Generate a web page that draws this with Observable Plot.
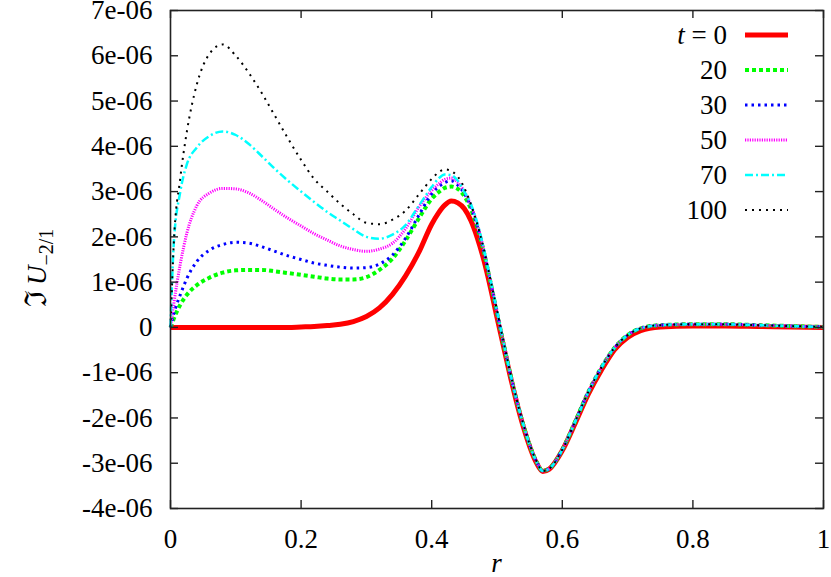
<!DOCTYPE html>
<html>
<head>
<meta charset="utf-8">
<script src="https://cdn.jsdelivr.net/npm/d3@7"></script>
<script src="https://cdn.jsdelivr.net/npm/@observablehq/plot@0.6"></script>
<style>
  html, body { margin: 0; padding: 0; background: #fff; }
  #chart { width: 831px; height: 577px; }
</style>
</head>
<body>
<div id="chart"></div>
<script>
// radial grid
const rGrid = [0, 0.005, 0.015, 0.025, 0.04, 0.06, 0.08, 0.1, 0.12, 0.14, 0.16, 0.18, 0.2, 0.22, 0.24, 0.26, 0.28, 0.3, 0.32, 0.34, 0.36, 0.38, 0.40, 0.41, 0.42, 0.43, 0.44, 0.45, 0.46, 0.47, 0.48, 0.49, 0.50, 0.51, 0.52, 0.54, 0.56, 0.57, 0.58, 0.60, 0.62, 0.64, 0.66, 0.68, 0.70, 0.72, 0.75, 0.8, 0.85, 0.9, 0.95, 1.0];

// values in units of 1e-06
const t0   = [0, 0, 0, 0, 0, 0, 0, 0, 0, 0, 0, 0, 0.01, 0.02, 0.04, 0.07, 0.13, 0.24, 0.43, 0.73, 1.14, 1.65, 2.28, 2.52, 2.70, 2.79, 2.75, 2.62, 2.36, 1.97, 1.48, 0.88, 0.22, -0.42, -1.06, -2.18, -2.98, -3.18, -3.13, -2.72, -2.11, -1.47, -0.94, -0.49, -0.22, -0.07, 0.01, 0.03, 0.03, 0.02, 0.01, 0];
const t20  = [0, 0.19, 0.5, 0.72, 0.93, 1.10, 1.21, 1.26, 1.27, 1.27, 1.24, 1.20, 1.16, 1.12, 1.08, 1.06, 1.06, 1.11, 1.27, 1.52, 1.92, 2.40, 2.84, 2.98, 3.08, 3.11, 3.06, 2.90, 2.62, 2.20, 1.66, 1.00, 0.32, -0.36, -1.01, -2.14, -2.95, -3.17, -3.12, -2.70, -2.07, -1.42, -0.88, -0.45, -0.17, -0.02, 0.05, 0.07, 0.07, 0.05, 0.03, 0.01];
const t30  = [0, 0.30, 0.72, 1.08, 1.45, 1.71, 1.83, 1.88, 1.86, 1.78, 1.68, 1.58, 1.50, 1.42, 1.37, 1.33, 1.31, 1.32, 1.40, 1.60, 1.97, 2.47, 2.95, 3.10, 3.20, 3.24, 3.14, 2.96, 2.66, 2.23, 1.68, 1.01, 0.33, -0.35, -1.01, -2.14, -2.95, -3.17, -3.12, -2.70, -2.07, -1.42, -0.88, -0.45, -0.17, -0.02, 0.05, 0.07, 0.07, 0.05, 0.03, 0.01];
const t50  = [0, 0.52, 1.40, 2.08, 2.68, 2.97, 3.07, 3.06, 2.97, 2.80, 2.60, 2.41, 2.24, 2.07, 1.93, 1.80, 1.72, 1.68, 1.73, 1.86, 2.18, 2.65, 3.02, 3.16, 3.27, 3.30, 3.20, 3.00, 2.70, 2.27, 1.70, 1.03, 0.35, -0.33, -1.00, -2.13, -2.95, -3.17, -3.12, -2.70, -2.07, -1.42, -0.88, -0.45, -0.17, -0.02, 0.05, 0.07, 0.07, 0.05, 0.03, 0.01];
const t70  = [0, 1.85, 3.00, 3.60, 3.97, 4.23, 4.33, 4.25, 4.05, 3.78, 3.50, 3.24, 3.00, 2.77, 2.55, 2.36, 2.17, 2.00, 1.96, 2.05, 2.26, 2.68, 3.10, 3.28, 3.38, 3.36, 3.24, 3.00, 2.72, 2.30, 1.72, 1.05, 0.37, -0.32, -0.99, -2.13, -2.95, -3.17, -3.12, -2.70, -2.07, -1.42, -0.88, -0.45, -0.17, -0.02, 0.05, 0.07, 0.07, 0.05, 0.03, 0.01];
const t100 = [0, 1.85, 3.30, 4.32, 5.35, 6.05, 6.25, 6.00, 5.62, 5.17, 4.67, 4.17, 3.70, 3.28, 3.00, 2.73, 2.50, 2.31, 2.28, 2.38, 2.58, 2.93, 3.28, 3.42, 3.49, 3.45, 3.33, 3.08, 2.72, 2.27, 1.72, 1.06, 0.38, -0.31, -0.98, -2.12, -2.94, -3.17, -3.12, -2.70, -2.07, -1.42, -0.88, -0.45, -0.17, -0.02, 0.05, 0.07, 0.07, 0.05, 0.03, 0.01];

const seriesNames = ["t = 0", "20", "30", "50", "70", "100"];
const seriesValues = [t0, t20, t30, t50, t70, t100];
const seriesColors = ["#ff0000", "#00ff00", "#0000ff", "#ff00ff", "#00ffff", "#000000"];
const seriesWidths = [5, 4, 3, 3, 2.5, 2];
const seriesDashes = [null, "4,3", "2.5,4", "1.2,1.2", "8,3,2,3", "2,5"];

const xTicks = [0, 0.2, 0.4, 0.6, 0.8, 1];
const xTickLabels = ["0", "0.2", "0.4", "0.6", "0.8", "1"];
const yTicks = [-4, -3, -2, -1, 0, 1, 2, 3, 4, 5, 6, 7];
const yTickLabels = ["-4e-06", "-3e-06", "-2e-06", "-1e-06", "0", "1e-06", "2e-06", "3e-06", "4e-06", "5e-06", "6e-06", "7e-06"];

const W = 831, H = 577;
const mL = 170, mR = 8, mT = 10, mB = 69;
const plotW = W - mL - mR, plotH = H - mT - mB;
const FONT = "Liberation Serif";
const FS = 27;
const frameColor = "#222";

const lineMarks = seriesValues.map((vals, i) => {
  const data = rGrid.map((r, j) => ({r, v: vals[j]}));
  return Plot.line(data, {
    x: "r", y: "v", stroke: seriesColors[i], strokeWidth: seriesWidths[i],
    strokeDasharray: seriesDashes[i] || undefined, curve: "monotone-x",
    strokeLinecap: "butt", strokeLinejoin: "round"
  });
});

const chart = Plot.plot({
  width: W, height: H,
  marginLeft: mL, marginRight: mR, marginTop: mT, marginBottom: mB,
  style: {background: "#fff", color: "#000"},
  x: {domain: [0, 1]},
  y: {domain: [-4, 7]},
  marks: [
    ...lineMarks,
    Plot.frame({stroke: frameColor, strokeWidth: 1.6}),
    Plot.tickX(xTicks, {x: d => d, stroke: frameColor, strokeWidth: 1.4, insetTop: plotH - 8}),
    Plot.tickX(xTicks, {x: d => d, stroke: frameColor, strokeWidth: 1.4, insetBottom: plotH - 8}),
    Plot.tickY(yTicks, {y: d => d, stroke: frameColor, strokeWidth: 1.4, insetRight: plotW - 8}),
    Plot.tickY(yTicks, {y: d => d, stroke: frameColor, strokeWidth: 1.4, insetLeft: plotW - 8}),
    Plot.axisX(xTicks, {tickSize: 0, tickPadding: 20, tickFormat: d => xTickLabels[xTicks.indexOf(d)], label: null}),
    Plot.axisY(yTicks, {tickSize: 0, tickPadding: 18, tickFormat: d => yTickLabels[yTicks.indexOf(d)], label: null})
  ]
});
document.getElementById("chart").appendChild(chart);

// annotations: axis titles and legend
const svg = d3.select(chart);
svg.attr("font-family", FONT).style("font-family", FONT);
svg.selectAll("g").attr("font-family", null).attr("font-size", null);
svg.selectAll("text").attr("font-family", FONT).attr("font-size", FS)
  .style("font-family", FONT).style("font-size", FS + "px");

svg.append("text")
  .attr("x", mL + plotW / 2).attr("y", 572)
  .attr("text-anchor", "middle")
  .attr("font-family", FONT).attr("font-size", FS).attr("font-style", "italic")
  .text("r");

const ylab = svg.append("text")
  .attr("transform", "translate(46,268) rotate(-90)")
  .attr("text-anchor", "middle")
  .attr("font-family", FONT).attr("font-size", FS);
ylab.append("tspan").attr("font-size", 30).text("\u2111");
ylab.append("tspan").text("\u2009");
ylab.append("tspan").attr("font-style", "italic").text("U");
ylab.append("tspan").attr("dy", 7).attr("font-size", 20).text("\u22122/1");

const legX = 727, legY0 = 35, legDY = 35, legL1 = 745, legL2 = 788;
seriesNames.forEach((name, i) => {
  const y = legY0 + i * legDY;
  const t = svg.append("text")
    .attr("x", legX).attr("y", y).attr("dy", "0.33em")
    .attr("text-anchor", "end")
    .attr("font-family", FONT).attr("font-size", FS);
  if (i === 0) {
    t.append("tspan").attr("font-style", "italic").text("t");
    t.append("tspan").text(" = 0");
  } else {
    t.text(name);
  }
  svg.append("line")
    .attr("x1", legL1).attr("x2", legL2).attr("y1", y).attr("y2", y)
    .attr("stroke", seriesColors[i]).attr("stroke-width", seriesWidths[i])
    .attr("stroke-dasharray", seriesDashes[i]);
});
</script>
</body>
</html>
